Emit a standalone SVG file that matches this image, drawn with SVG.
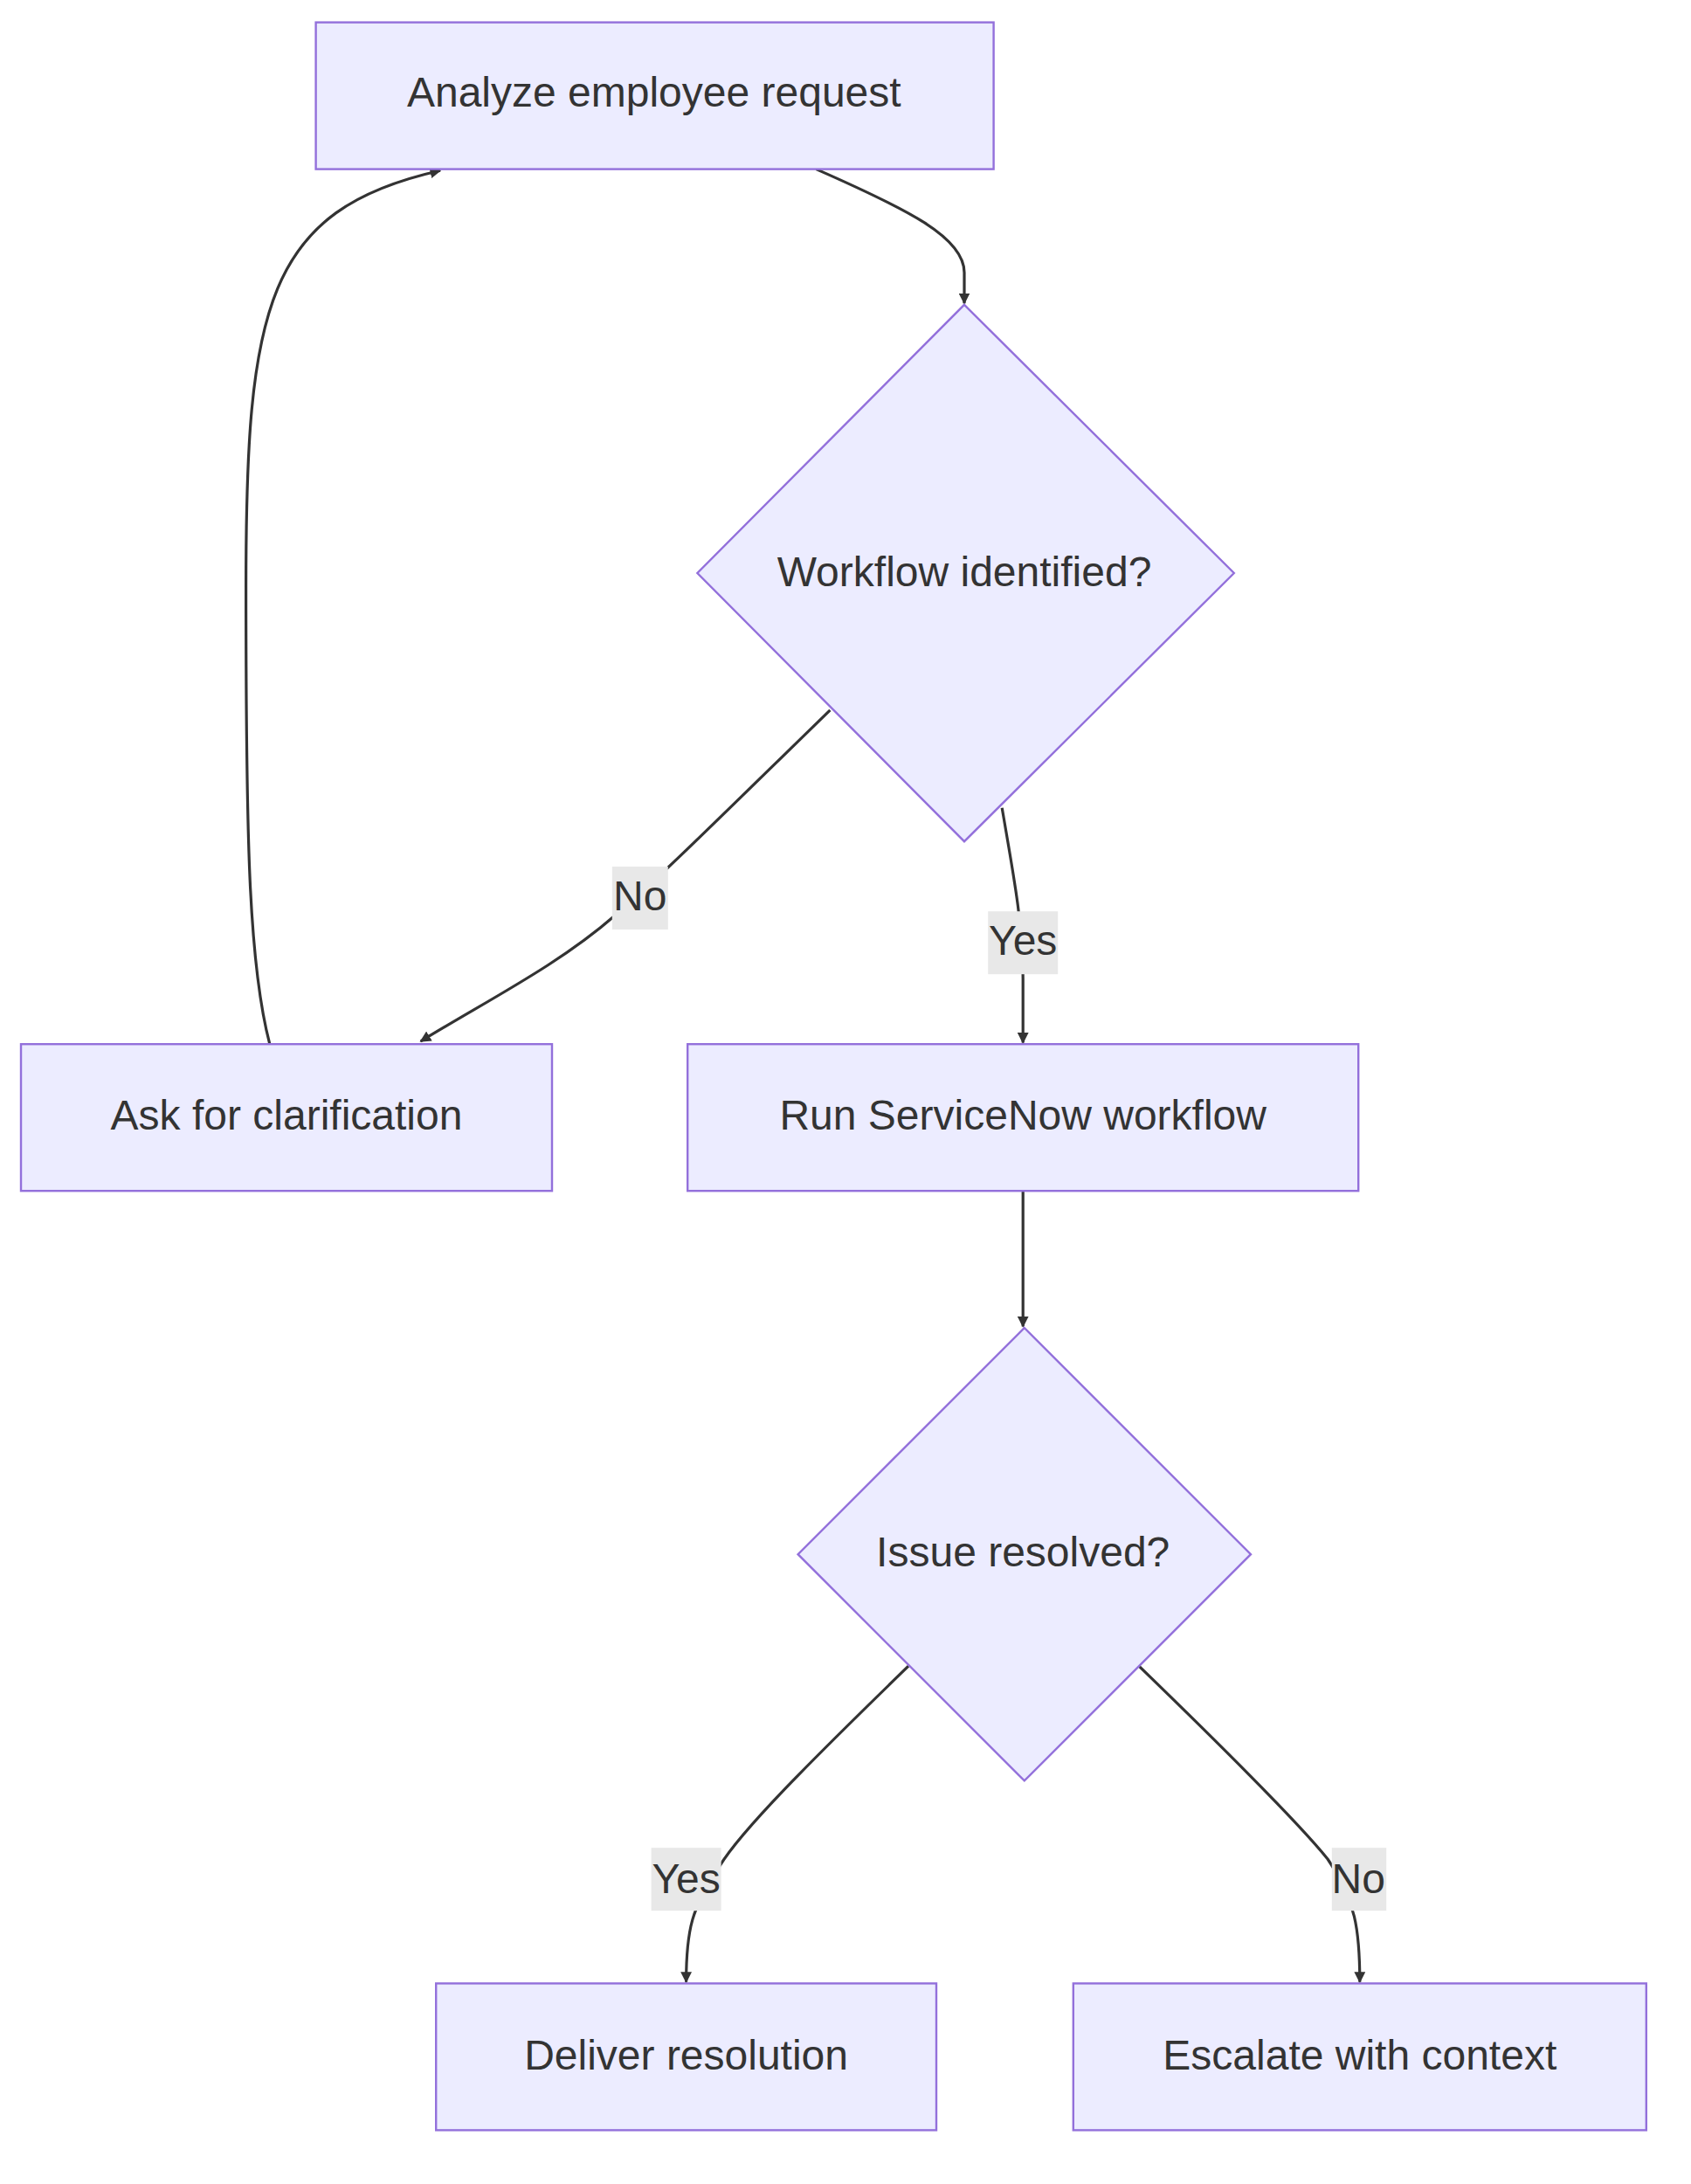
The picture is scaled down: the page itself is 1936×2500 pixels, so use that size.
<svg xmlns="http://www.w3.org/2000/svg" width="1936" height="2500" viewBox="0 0 1936 2500">
<style>
.n{fill:#ECECFF;stroke:#9370DB;stroke-width:1.5}
.t{font-family:"Liberation Sans",Arial,sans-serif;font-size:30px;fill:#333;text-anchor:middle;dominant-baseline:central}
.e{fill:none;stroke:#333;stroke-width:2}
.lb{fill:#E8E8E8}
</style>
<defs><marker id="ah" viewBox="0 0 10 10" refX="9" refY="5" markerWidth="8" markerHeight="8" markerUnits="userSpaceOnUse" orient="auto"><path d="M0,0L10,5L0,10z" fill="#333"/></marker></defs>
<rect width="1936" height="2500" fill="#fff"/>
<g transform="scale(1.6)">
<g id="connectors">
<path class="e" marker-end="url(#ah)" d="M584,121 C650,150 690,170 690,195 L690,217"/>
<path class="e" marker-end="url(#ah)" d="M594,508 C520,580 470,630 440,655 C400,690 350,715 301,745"/>
<path class="e" marker-end="url(#ah)" d="M717,578 C725,625 732,660 732,700 L732,746"/>
<path class="e" marker-end="url(#ah)" d="M193,747 C178,690 176,600 176,420 C176,220 190,150 315,122"/>
<path class="e" marker-end="url(#ah)" d="M732,852 L732,949"/>
<path class="e" marker-end="url(#ah)" d="M650,1192 C580,1260 530,1310 515,1335 C495,1365 491,1380 491,1418"/>
<path class="e" marker-end="url(#ah)" d="M815,1192 C880,1255 930,1305 950,1330 C970,1360 973,1380 973,1418"/>
<rect class="lb" x="438" y="620" width="40" height="45"/><text class="t" x="458" y="641">No</text>
<rect class="lb" x="707" y="652" width="50" height="45"/><text class="t" x="732" y="673">Yes</text>
<rect class="lb" x="466" y="1322" width="50" height="45"/><text class="t" x="491" y="1344">Yes</text>
<rect class="lb" x="953" y="1322" width="39" height="45"/><text class="t" x="972" y="1344">No</text>
</g>
<g id="A"><rect class="n" x="226" y="16" width="485" height="105"/><text class="t" x="468" y="66">Analyze employee request</text></g>
<g id="B"><polygon class="n" points="690,218 883,410 690,602 499,410"/><text class="t" x="690" y="409">Workflow identified?</text></g>
<g id="C"><rect class="n" x="15" y="747" width="380" height="105"/><text class="t" x="205" y="798">Ask for clarification</text></g>
<g id="D"><rect class="n" x="492" y="747" width="480" height="105"/><text class="t" x="732" y="798">Run ServiceNow workflow</text></g>
<g id="E"><polygon class="n" points="733,950 895,1112 733,1274 571,1112"/><text class="t" x="732" y="1110">Issue resolved?</text></g>
<g id="F"><rect class="n" x="312" y="1419" width="358" height="105"/><text class="t" x="491" y="1470">Deliver resolution</text></g>
<g id="G"><rect class="n" x="768" y="1419" width="410" height="105"/><text class="t" x="973" y="1470">Escalate with context</text></g>
</g>
</svg>
